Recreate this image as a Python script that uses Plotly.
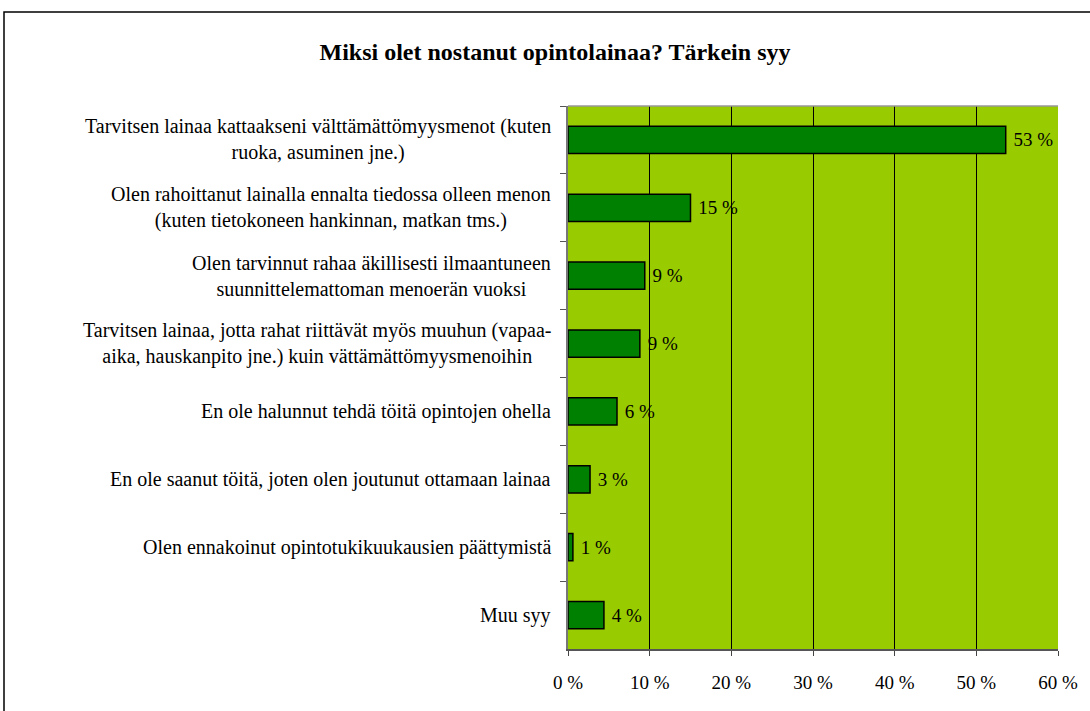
import plotly.graph_objects as go

categories = [
    "Tarvitsen lainaa kattaakseni välttämättömyysmenot (kuten<br>ruoka, asuminen jne.)",
    "Olen rahoittanut lainalla ennalta tiedossa olleen menon<br>(kuten tietokoneen hankinnan, matkan tms.)",
    "Olen tarvinnut rahaa äkillisesti ilmaantuneen<br>suunnittelemattoman menoerän vuoksi",
    "Tarvitsen lainaa, jotta rahat riittävät myös muuhun (vapaa-<br>aika, hauskanpito jne.) kuin vättämättömyysmenoihin",
    "En ole halunnut tehdä töitä opintojen ohella",
    "En ole saanut töitä, joten olen joutunut ottamaan lainaa",
    "Olen ennakoinut opintotukikuukausien päättymistä",
    "Muu syy",
]
values = [53.6, 15.0, 9.4, 8.8, 6.0, 2.7, 0.6, 4.4]
value_labels = ["53 %", "15 %", "9 %", "9 %", "6 %", "3 %", "1 %", "4 %"]
tick_vals = [0, 10, 20, 30, 40, 50, 60]
tick_text = ["0 %", "10 %", "20 %", "30 %", "40 %", "50 %", "60 %"]

FONT = "Liberation Serif, Times New Roman, serif"
W, H = 1090, 711
L, R, T, B = 568, 32, 106, 62
pw = W - L - R
ph = H - T - B

fig = go.Figure()
fig.add_trace(go.Bar(
    y=categories, x=values, orientation="h",
    marker=dict(color="#008000", line=dict(color="black", width=1.5)),
    text=value_labels, texttemplate="\u00a0%{text}",
    textposition="outside", cliponaxis=False,
    textfont=dict(family=FONT, size=19, color="black"),
    width=0.4,
))

for c in categories:
    fig.add_annotation(
        x=(553 - L) / pw, xref="paper", y=c, yref="y",
        text=c, showarrow=False, xanchor="right", align="center",
        font=dict(family=FONT, size=20, color="black"),
    )

fig.add_shape(type="rect", xref="paper", yref="paper",
              x0=(4 - L) / pw, x1=(W + 20 - L) / pw,
              y0=-(B + 20) / ph, y1=1 + (T - 12) / ph,
              line=dict(color="black", width=1.5), fillcolor="rgba(0,0,0,0)", layer="below")
fig.add_shape(type="line", xref="paper", yref="paper",
              x0=0, x1=1, y0=1, y1=1,
              line=dict(color="#999999", width=1.5))

fig.update_layout(
    width=W, height=H,
    margin=dict(l=L, r=R, t=T, b=B),
    paper_bgcolor="white", plot_bgcolor="#99CC00",
    showlegend=False,
    title=dict(text="<b>Miksi olet nostanut opintolainaa? Tärkein syy</b>",
               x=555 / W, xanchor="center", y=1 - 52 / H, yanchor="middle",
               font=dict(family=FONT, size=24, color="black")),
    font=dict(family=FONT, size=19, color="black"),
    xaxis=dict(range=[0, 60], tickvals=tick_vals, ticktext=tick_text,
               showgrid=True, gridcolor="black", gridwidth=1,
               ticks="outside", ticklen=5, tickcolor="#444",
               ticklabelstandoff=10,
               showline=True, linecolor="#555", linewidth=1.5,
               zeroline=False, fixedrange=True, mirror=False,
               tickfont=dict(family=FONT, size=19)),
    yaxis=dict(autorange="reversed", showticklabels=False,
               ticks="outside", ticklen=6, tickcolor="#555", tickson="boundaries",
               showline=True, linecolor="#777", linewidth=1.5, showgrid=False,
               fixedrange=True),
)

fig.write_html("out.html", config={"displayModeBar": False},
               post_script="document.body.style.margin='0';")
